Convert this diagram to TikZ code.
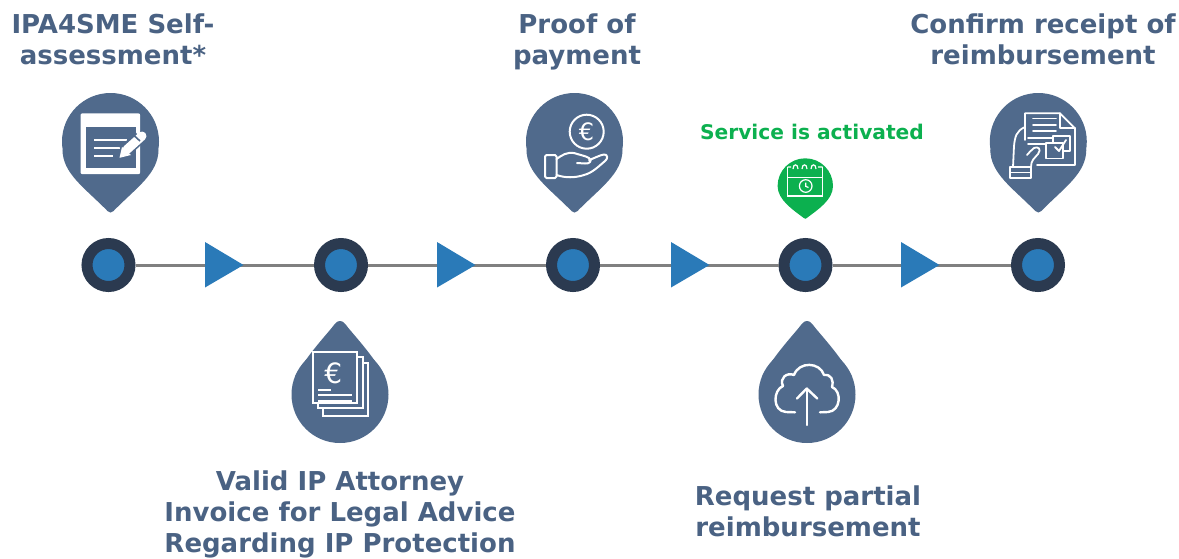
\documentclass[tikz,border=0pt]{standalone}
\usepackage{fontspec}
\setmainfont{DejaVu Sans}
\definecolor{pinc}{HTML}{506A8C}
\definecolor{darkc}{HTML}{2B3A50}
\definecolor{bluec}{HTML}{2A7AB8}
\definecolor{greenc}{HTML}{0CB04F}
\definecolor{textc}{HTML}{4A6283}
\definecolor{linec}{HTML}{808080}
\tikzset{
  stopdot/.style={circle,draw=darkc,fill=bluec,line width=11pt,minimum size=43pt,inner sep=0pt},
  conn/.style={draw=linec,line width=3pt},
  lbl/.style={font=\fontsize{26}{31}\selectfont\bfseries,text=textc,align=center,inner sep=0pt},
  glbl/.style={font=\fontsize{20.2}{24}\selectfont\bfseries,text=greenc,align=center,inner sep=0pt},
  ico/.style={draw=white,line width=2pt,line join=round,line cap=round},
  pinshape/.pic={
    \fill[pic actions] (0,0) circle[radius=48.5];
    \fill[pic actions] (-48,8) .. controls (-48,32) and (-26,46) .. (-3,69.5) .. controls (-1.5,71.5) and (1.5,71.5) .. (3,69.5) .. controls (26,46) and (48,32) .. (48,8) -- cycle;
  },
  smallpin/.pic={
    \fill[pic actions] (-27.7,0) .. controls (-27.7,-15.3) and (-15.3,-27.7) .. (0,-27.7)
      .. controls (15.3,-27.7) and (27.7,-15.3) .. (27.7,0)
      .. controls (27.7,14) and (12,24) .. (1.5,32) .. controls (0.7,33) and (-0.7,33) .. (-1.5,32)
      .. controls (-12,24) and (-27.7,14) .. (-27.7,0) -- cycle;
  },
  dropshape/.pic={
    \fill[pic actions] (0,0) circle[radius=48.5];
    \fill[pic actions] (0,-73.5) .. controls (3,-73.5) and (5,-71) .. (8,-67) .. controls (17,-56) and (32,-40) .. (45,-18)
      -- (-45,-18) .. controls (-32,-40) and (-17,-56) .. (-8,-67) .. controls (-5,-71) and (-3,-73.5) .. (0,-73.5) -- cycle;
  },
}
\begin{document}
\begin{tikzpicture}[x=1pt,y=-1pt]
\useasboundingbox (0,0) rectangle (1179,558);
% stops and connectors
\node[stopdot] (n1) at (108.5,265) {};
\node[stopdot] (n2) at (341,265) {};
\node[stopdot] (n3) at (573,265) {};
\node[stopdot] (n4) at (805.5,265) {};
\node[stopdot] (n5) at (1038,265) {};
\draw[conn] (n1) -- (n2);
\draw[conn] (n2) -- (n3);
\draw[conn] (n3) -- (n4);
\draw[conn] (n4) -- (n5);
\foreach \ax in {205,437,671,901}
  \fill[bluec] (\ax,242) -- (\ax+38.5,265) -- (\ax,287.5) -- cycle;
% pins
\pic[pinc] at (110.5,141.5) {pinshape};
\pic[pinc] at (574.5,141.5) {pinshape};
\pic[pinc] at (1038.3,141.5) {pinshape};
\pic[pinc] at (340,394.5) {dropshape};
\pic[pinc] at (807,394.5) {dropshape};
\pic[greenc] at (805.3,186) {smallpin};
% icon: form with pen
\fill[white,rounded corners=2pt] (80.5,113.3) rectangle (140.2,174.2);
\fill[pinc] (86,127.3) rectangle (136,168);
\fill[white] (87.5,120) circle[radius=1] (92.8,120) circle[radius=1] (98.3,120) circle[radius=1];
\draw[white,line width=2pt] (94.3,140) -- (127.3,140) (94.3,148) -- (120,148) (94.3,156) -- (112.7,156);
\draw[pinc,line width=13pt] (124,152) -- (140,137);
\draw[white,line width=9pt,line cap=round] (127,149.5) -- (142,136);
\fill[white] (119.5,157.8) -- (122,147) -- (131,155) -- cycle;
\draw[pinc,line width=1.6pt] (134,135.5) -- (140,141);
% icon: hand with coin
\draw[ico] (586.7,131.7) circle[radius=17];
\node[font=\fontsize{24}{24}\selectfont,text=white,inner sep=0pt] (eurocoin) at (586.5,132) {€};
\draw[ico,rounded corners=1.5pt] (545,155) rectangle (556.5,178);
\draw[ico] (556.5,159) .. controls (562,155) and (567,152) .. (574,153)
  .. controls (580,155) and (586,156) .. (589,158) .. controls (593,161) and (589,164) .. (585,163.5)
  -- (577,163) (589,160) .. controls (595,158) and (600,155) .. (604,154.5)
  .. controls (608,154) and (608,159) .. (605,161) .. controls (598,167) and (592,173) .. (584,175)
  .. controls (575,178) and (565,178) .. (556.5,175);
% icon: calendar (green pin)
\draw[white,line width=1.2pt] (787.5,167) -- (787.5,196) -- (822.5,196) -- (822.5,167) (787.5,177.5) -- (822.5,177.5);
\draw[white,line width=1.2pt] (805.7,186) circle[radius=6.3] (805.7,182.5) -- (805.7,186.3) -- (808.5,187.5);
\draw[white,line width=1.2pt] (787.5,167) -- (791,167)
  (793,169) .. controls (793,163.5) and (798,163.5) .. (798,169)
  (802,169) .. controls (802,163.5) and (807,163.5) .. (807,169)
  (811,169) .. controls (811,163.5) and (816,163.5) .. (816,169)
  (818,167) -- (822.5,167);
% icon: hand with document
\begin{scope}[ico,line width=1.8pt]
  \draw (1025,140) -- (1025,113.3) -- (1060,113.3) -- (1075,128.3) -- (1075,165) -- (1037,165);
  \draw (1060,113.3) -- (1060,128.3) -- (1075,128.3);
  \draw (1033,118.5) -- (1056,118.5) (1033,125) -- (1056,125) (1033,131) -- (1056,131);
  \draw (1028,138) -- (1052,138) (1028,144) -- (1045,144);
  \draw (1053,136) rectangle (1070,151);
  \draw[fill=pinc] (1046,143) rectangle (1063,158.5);
  \draw (1055,147) -- (1059,151) -- (1066,140);
  \draw (1025,127) .. controls (1016,131) and (1015,137) .. (1014,146) -- (1013,167);
  \draw (1031,167) .. controls (1031,160) and (1034,159) .. (1038,154)
    .. controls (1042,149) and (1038,146) .. (1034,148) .. controls (1031,150) and (1029,153) .. (1027,155);
  \draw (1010,167) rectangle (1031,178);
  \draw (1010,172.5) -- (1031,172.5);
\end{scope}
% icon: stacked invoices
\begin{scope}[ico,line width=1.8pt,line cap=butt,line join=miter]
  \draw (312.7,351.7) rectangle (357.3,403.3);
  \draw (357.3,356.7) -- (362.7,356.7) -- (362.7,408.3) -- (318.3,408.3) -- (318.3,403.3);
  \draw (362.7,362.7) -- (367.7,362.7) -- (367.7,415.7) -- (323.3,415.7) -- (323.3,408.3);
  \draw[line width=1.9pt] (318.3,390) -- (330.7,390) (318.3,395) -- (351.7,395) (318.3,400.7) -- (351.7,400.7);
\end{scope}
\node[font=\fontsize{28}{28}\selectfont,text=white,inner sep=0pt] (euroinv) at (333.3,373.5) {€};
% icon: cloud upload
\begin{scope}[ico,line width=2.4pt]
  \draw (795,412.3) -- (786,412) .. controls (772,411) and (773,390) .. (783,386)
    .. controls (779,378) and (787,372) .. (794,375) .. controls (799,361) and (820,362) .. (824,375)
    .. controls (831,374) and (834,380) .. (832,387) .. controls (842,391) and (841,411) .. (828,412) -- (820,412.3);
  \draw (806.7,425) -- (806.7,388.5);
  \draw (797,398.5) -- (806.7,388.5) -- (817.3,398.5);
\end{scope}
% labels
\node[lbl] (t1) at (113,39) {IPA4SME Self-\\assessment*};
\node[lbl] (t2) at (340,514) {Valid IP Attorney\\Invoice for Legal Advice\\Regarding IP Protection};
\node[lbl] (t3) at (577,42) {Proof of\\payment};
\node[glbl] (t4) at (812,132) {Service is activated};
\node[lbl] (t5) at (808,511) {Request partial\\reimbursement};
\node[lbl] (t6) at (1043,39.5) {Confirm receipt of\\reimbursement};
\end{tikzpicture}
\end{document}
